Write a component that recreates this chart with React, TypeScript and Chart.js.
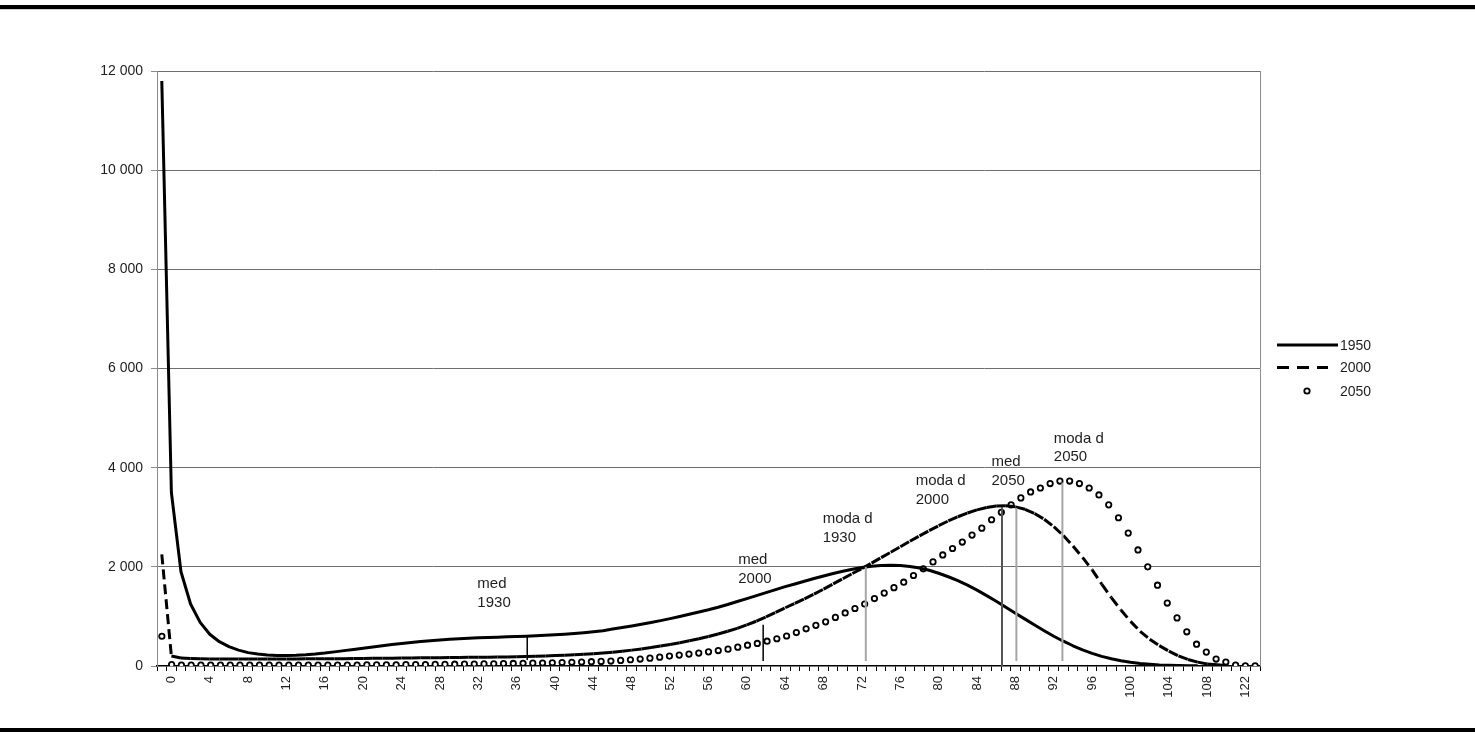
import React, { useEffect, useRef } from "react";
import { Chart, registerables } from "chart.js";

Chart.register(...registerables);

const FONT = '"Liberation Sans", Arial, Helvetica, sans-serif';

// Category labels of the primary x axis (first category is unlabeled)
const ageLabels: string[] = [
  "", "0", "1", "2", "3", "4", "5", "6", "7", "8", "9",
  "10", "11", "12", "13", "14", "15", "16", "17", "18", "19",
  "20", "21", "22", "23", "24", "25", "26", "27", "28", "29",
  "30", "31", "32", "33", "34", "35", "36", "37", "38", "39",
  "40", "41", "42", "43", "44", "45", "46", "47", "48", "49",
  "50", "51", "52", "53", "54", "55", "56", "57", "58", "59",
  "60", "61", "62", "63", "64", "65", "66", "67", "68", "69",
  "70", "71", "72", "73", "74", "75", "76", "77", "78", "79",
  "80", "81", "82", "83", "84", "85", "86", "87", "88", "89",
  "90", "91", "92", "93", "94", "95", "96", "97", "98", "99",
  "100", "101", "102", "103", "104", "105", "106", "107", "108", "109",
  "110", "111", "122", "123",
];

const seriesNames: string[] = ["1950", "2000", "2050"];

const deaths1950: (number | null)[] = [
  11800,
  3500, 1900, 1250, 880, 640, 490, 390, 320, 270, 240,
  220, 212, 210, 215, 225, 240, 260, 285, 310, 335,
  360, 385, 410, 435, 455, 475, 495, 510, 525, 540,
  550, 560, 568, 575, 582, 590, 596, 602, 610, 618,
  628, 640, 655, 672, 690, 712, 745, 775, 808, 842,
  878, 915, 955, 998, 1043, 1090, 1135, 1185, 1240, 1300,
  1360, 1420, 1480, 1540, 1600, 1655, 1710, 1765, 1815, 1865,
  1910, 1950, 1985, 2010, 2025, 2030, 2025, 2005, 1975, 1930,
  1870, 1800, 1720, 1630, 1530, 1420, 1305, 1185, 1065, 945,
  825, 710, 600, 500, 408, 325, 255, 195, 145, 105,
  75, 52, 35, 22, 14, 8, 5, 3,
  null, null, null, null, null, null,
];

const deaths2000: (number | null)[] = [
  2250,
  200, 160, 150, 145, 140, 140, 140, 140, 140, 140,
  140, 141, 142, 143, 144, 145, 146, 147, 148, 150,
  152, 154, 156, 158, 160, 162, 164, 166, 168, 170,
  172, 174, 176, 178, 180, 183, 186, 190, 195, 202,
  210, 218, 226, 236, 248, 262, 278, 298, 320, 345,
  372, 402, 435, 470, 508, 550, 595, 645, 700, 760,
  830, 905, 990, 1080, 1175, 1265, 1355, 1450, 1550, 1655,
  1760, 1865, 1965, 2075, 2185, 2295, 2405, 2515, 2625, 2730,
  2830, 2925, 3010, 3085, 3148, 3195, 3225, 3232, 3210, 3160,
  3075, 2960, 2810, 2630, 2420, 2190, 1940, 1650, 1380, 1130,
  900, 700, 540, 410, 300, 205, 130, 78, 42, 23, 12,
  null, null, null,
];

// 2050 is plotted on its own (hidden) category axis, as in the original workbook
const deaths2050: number[] = [
  600, 30,
  20, 20, 20, 20, 20, 20, 20, 20, 20, 20, 20, 20, 20, 20, 20, 20, 20, 20, 20,
  22, 23, 24, 25, 27, 28, 30, 32, 34, 36,
  38, 40, 42, 45, 48, 51, 54, 57,
  60, 65, 70, 75, 80, 87, 93, 100, 113, 126, 140,
  158, 178, 200, 220, 240, 260, 285, 312, 340, 380,
  420, 455, 500, 550, 605, 675, 750, 820, 890, 980,
  1070, 1160, 1250, 1360, 1470, 1580, 1690, 1825, 1960, 2100,
  2240, 2370, 2500, 2640, 2780, 2950, 3100, 3250, 3390, 3510,
  3590, 3680, 3730, 3730, 3680, 3590, 3450, 3250, 2990, 2680,
  2340, 2000, 1630, 1270, 970, 690, 440, 280, 140, 80, 20, 5, 3,
];
const slots2050: string[] = deaths2050.map((_, i) => String(i));

// Y axis ticks
const yTickValues: number[] = [0, 2000, 4000, 6000, 8000, 10000, 12000];

// Medians / modes marked by vertical lines (age, top value, bottom value)
const markerAges: number[] = [37.1, 61.7, 72.4, 86.6, 88.1, 92.9];
const markerTops: number[] = [600, 830, 2000, 3210, 3190, 3700];
const markerBottoms: number[] = [120, 100, 100, 0, 100, 100];
const markerColors: string[] = ["#000000", "#000000", "#a6a6a6", "#555555", "#a6a6a6", "#a6a6a6"];

// Annotation texts (anchored at age / value)
const noteTexts: string[][] = [
  ["med", "1930"],
  ["med", "2000"],
  ["moda d", "1930"],
  ["moda d", "2000"],
  ["med", "2050"],
  ["moda d", "2050"],
];
const noteAges: number[] = [31.9, 59.1, 67.9, 77.6, 85.5, 92.0];
const noteValues: number[] = [1650, 2140, 2960, 3730, 4110, 4590];

const fmtThousands = (v: number): string => {
  if (v === 0) return "0";
  const k = Math.round(v / 1000);
  return `${k} 000`;
};

const overlayPlugin = {
  id: "overlay",
  afterDraw(chart: any) {
    const { ctx, chartArea, scales } = chart;
    const xs = scales.x;
    const ys = scales.y;
    ctx.save();

    // right border of plot area
    const rx = Math.round(chartArea.right) + 0.5;
    ctx.strokeStyle = "#8c8c8c";
    ctx.lineWidth = 1;
    ctx.beginPath();
    ctx.moveTo(rx, chartArea.top);
    ctx.lineTo(rx, chartArea.bottom);
    ctx.stroke();

    // vertical marker lines
    markerAges.forEach((age, i) => {
      const px = xs.getPixelForValue(age + 1);
      ctx.strokeStyle = markerColors[i];
      ctx.lineWidth = i < 2 ? 1.5 : 2;
      ctx.beginPath();
      ctx.moveTo(px, ys.getPixelForValue(markerTops[i]));
      ctx.lineTo(px, ys.getPixelForValue(markerBottoms[i]));
      ctx.stroke();
    });

    // annotation texts
    ctx.font = `15px ${FONT}`;
    ctx.fillStyle = "#1e1e1e";
    ctx.textAlign = "left";
    ctx.textBaseline = "middle";
    noteTexts.forEach((lines, i) => {
      const px = xs.getPixelForValue(noteAges[i] + 1);
      const py = ys.getPixelForValue(noteValues[i]);
      lines.forEach((t, k) => ctx.fillText(t, px, py + k * 18.5));
    });

    // legend
    const lx = chartArea.right + 17;
    const rows = [345, 367.5, 391];
    ctx.strokeStyle = "#000";
    ctx.lineWidth = 3;
    ctx.lineCap = "butt";
    ctx.setLineDash([]);
    ctx.beginPath();
    ctx.moveTo(lx, rows[0]);
    ctx.lineTo(lx + 61, rows[0]);
    ctx.stroke();
    ctx.setLineDash([12, 8]);
    ctx.beginPath();
    ctx.moveTo(lx, rows[1]);
    ctx.lineTo(lx + 51, rows[1]);
    ctx.stroke();
    ctx.setLineDash([]);
    ctx.lineWidth = 1.8;
    ctx.fillStyle = "#fff";
    ctx.beginPath();
    ctx.arc(lx + 30, rows[2], 2.7, 0, Math.PI * 2);
    ctx.fill();
    ctx.stroke();
    ctx.fillStyle = "#1e1e1e";
    ctx.font = `14px ${FONT}`;
    seriesNames.forEach((name, i) => ctx.fillText(name, lx + 63, rows[i] + 1));

    ctx.restore();
  },
};

export default function App() {
  const canvasRef = useRef<HTMLCanvasElement | null>(null);

  useEffect(() => {
    const canvas = canvasRef.current;
    if (!canvas) return;
    const chart = new Chart(canvas, {
      type: "line",
      data: {
        labels: ageLabels,
        datasets: [
          {
            label: seriesNames[0],
            data: deaths1950,
            xAxisID: "x",
            borderColor: "#000",
            borderWidth: 3,
            pointRadius: 0,
            tension: 0,
            fill: false,
            spanGaps: false,
            borderJoinStyle: "round",
          },
          {
            label: seriesNames[1],
            data: deaths2000,
            xAxisID: "x",
            borderColor: "#000",
            borderWidth: 3,
            borderDash: [10, 5],
            borderCapStyle: "butt",
            pointRadius: 0,
            tension: 0,
            fill: false,
            spanGaps: false,
            // restart the dash pattern on every segment (as the original renderer does)
            segment: {
              borderDashOffset: (c: any) => (c.p0DataIndex % 2 ? 0.001 : 0),
            },
          },
          {
            label: seriesNames[2],
            data: deaths2050,
            xAxisID: "x2",
            showLine: false,
            pointStyle: "circle",
            pointRadius: 2.7,
            pointBorderWidth: 1.8,
            pointBorderColor: "#000",
            pointBackgroundColor: "#fff",
            borderColor: "#000",
            backgroundColor: "#fff",
          },
        ],
      },
      options: {
        animation: false,
        responsive: false,
        devicePixelRatio: 1,
        events: [],
        layout: { padding: { left: 0, right: 215, top: 71, bottom: 0 } },
        plugins: {
          legend: { display: false },
          tooltip: { enabled: false },
        },
        scales: {
          x: {
            type: "category",
            offset: true,
            grid: {
              offset: true,
              drawOnChartArea: false,
              drawTicks: true,
              tickLength: 5,
              color: "#000",
            },
            border: { color: "#000", width: 1.5 },
            ticks: {
              autoSkip: false,
              maxRotation: 90,
              minRotation: 90,
              padding: 5,
              color: "#1e1e1e",
              font: { family: FONT, size: 13 },
              callback: (_v: any, i: number) => (i % 4 === 1 ? ageLabels[i] : ""),
            },
            afterFit: (s: any) => {
              s.height = 69;
            },
          },
          x2: {
            type: "category",
            labels: slots2050,
            offset: true,
            display: false,
          },
          y: {
            type: "linear",
            min: 0,
            max: 12000,
            afterBuildTicks: (s: any) => {
              s.ticks = yTickValues.map((v) => ({ value: v }));
            },
            grid: {
              color: (c: any) => (c.tick && c.tick.value === 0 ? "rgba(0,0,0,0)" : "#6f6f6f"),
              tickColor: "#8c8c8c",
              tickLength: 6,
              lineWidth: 1,
            },
            border: { color: "#8c8c8c", width: 1 },
            ticks: {
              padding: 8,
              color: "#1e1e1e",
              font: { family: FONT, size: 14 },
              callback: (v: any) => fmtThousands(Number(v)),
            },
            afterFit: (s: any) => {
              s.width = 157;
            },
          },
        },
      },
      plugins: [overlayPlugin],
    } as any);
    return () => chart.destroy();
  }, []);

  return (
    <div
      style={{
        position: "absolute",
        left: 0,
        top: 0,
        width: 1475,
        height: 735,
        background: "#fff",
        overflow: "hidden",
      }}
    >
      <div style={{ position: "absolute", left: 0, top: 5, width: 1475, height: 4, background: "#000" }} />
      <div style={{ position: "absolute", left: 0, top: 9, width: 1475, height: 1, background: "#d0d0d0" }} />
      <canvas
        ref={canvasRef}
        width={1475}
        height={735}
        style={{ position: "absolute", left: 0, top: 0, width: 1475, height: 735 }}
      />
      <div style={{ position: "absolute", left: 0, top: 728, width: 1475, height: 4, background: "#000" }} />
    </div>
  );
}
